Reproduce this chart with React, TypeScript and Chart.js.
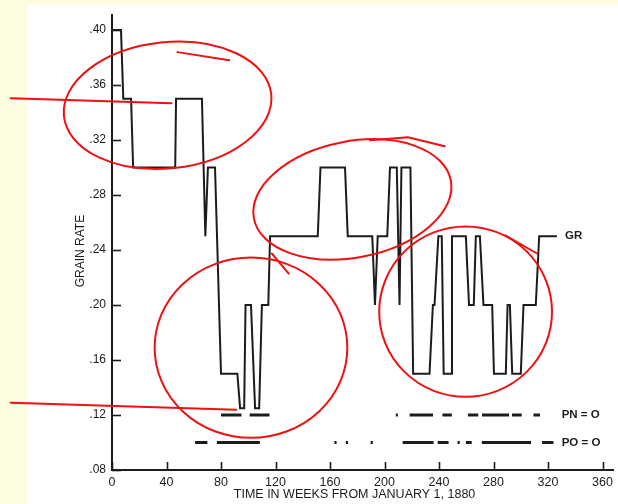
import React, { useEffect, useRef } from "react";
import { Chart, registerables } from "chart.js";

Chart.register(...registerables);

// ---- data ----
const grWeeks = [
  0, 6.6, 8.3, 14, 15.5, 46.4, 47, 66, 68.5, 70.4, 75.6, 80, 92, 94, 97, 98, 102, 105, 108, 110,
  114.7, 116, 151, 153, 171, 173, 191, 193, 195, 202, 204, 209, 211, 212.4, 219, 221, 233, 235.5,
  236.7, 239.5, 242, 243.4, 248.8, 249.5, 259.7, 262, 265.5, 267, 270, 272.6, 279, 280.3, 289,
  290.3, 292, 293.7, 300, 302, 311, 313.5, 326.5,
];
const grRate = [
  0.4, 0.4, 0.35, 0.35, 0.3, 0.3, 0.35, 0.35, 0.25, 0.3, 0.3, 0.15, 0.15, 0.125, 0.125, 0.2, 0.2,
  0.125, 0.125, 0.2, 0.2, 0.25, 0.25, 0.3, 0.3, 0.25, 0.25, 0.2, 0.25, 0.25, 0.3, 0.3, 0.2, 0.3,
  0.3, 0.15, 0.15, 0.2, 0.2, 0.25, 0.25, 0.15, 0.15, 0.25, 0.25, 0.2, 0.2, 0.25, 0.25, 0.2, 0.2,
  0.15, 0.15, 0.2, 0.2, 0.15, 0.15, 0.2, 0.2, 0.25, 0.25,
];

const pnLevel = 0.12;
const pnStart = [80, 101, 208.3, 218.4, 242.5, 261.2, 271.5, 293.5, 309.3];
const pnEnd = [95, 115.6, 209.8, 235.6, 249.4, 268.8, 291.4, 300.7, 314.1];

const poLevel = 0.1;
const poStart = [61, 77, 163.2, 171.6, 189.8, 213.3, 239, 253.6, 259.7, 271.4, 315.6];
const poEnd = [70, 108.5, 164.8, 173.2, 191.4, 236, 247, 255.2, 264, 307.5, 324];

const seriesLabels = ["GR", "PN = O", "PO = O"];
const seriesLabelWeek = [332.5, 330, 330];
const seriesLabelRate = [0.25, pnLevel, poLevel];

const xTickValues = [0, 40, 80, 120, 160, 200, 240, 280, 320, 360];
const yTickValues = [0.08, 0.12, 0.16, 0.2, 0.24, 0.28, 0.32, 0.36, 0.4];

const xTitle = "TIME IN WEEKS FROM JANUARY 1, 1880";
const yTitle = "GRAIN RATE";

// hand-drawn red markup (data units: week, rate, radius weeks, radius rate, tilt deg)
const markEllipses = [
  [40.8, 0.3453, 76.5, 0.0459, -6],
  [176.4, 0.2768, 73.6, 0.0423, -11],
  [102.0, 0.169, 70.7, 0.0656, 0],
  [259.5, 0.1952, 63.4, 0.062, 0],
];
const markStrokes = [
  [[-74.3, 0.3504], [43.7, 0.3468]],
  [[-74.3, 0.1289], [91.1, 0.1238]],
  [[48.1, 0.384], [86.0, 0.3781]],
  [[189.5, 0.3198], [217.2, 0.322], [244.2, 0.3155]],
  [[117.3, 0.2375], [129.7, 0.2229]],
  [[288.6, 0.2506], [311.9, 0.2375]],
];

const INK = "#1c1c1c";
const FONT = '"Liberation Sans", Arial, Helvetica, sans-serif';

function segmentData(starts: number[], ends: number[], level: number) {
  const out: { x: number; y: number | null }[] = [];
  starts.forEach((s, i) => {
    out.push({ x: s, y: level });
    out.push({ x: ends[i], y: level });
    out.push({ x: ends[i], y: null });
  });
  return out;
}

const decorPlugin = {
  id: "decor",
  beforeDraw(chart: any) {
    const { ctx, width, height } = chart;
    ctx.save();
    ctx.fillStyle = "#fefde2";
    ctx.fillRect(0, 0, width, height);
    ctx.fillStyle = "#ffffff";
    ctx.fillRect(28, 5, width - 28, height - 5);
    ctx.restore();
  },
  afterDraw(chart: any) {
    const { ctx, chartArea } = chart;
    const xs = chart.scales.x;
    const ys = chart.scales.y;
    ctx.save();
    // inward tick marks
    ctx.strokeStyle = INK;
    ctx.lineWidth = 1.6;
    yTickValues.forEach((v) => {
      const py = Math.round(ys.getPixelForValue(v)) + 0.5;
      ctx.beginPath();
      ctx.moveTo(chartArea.left, py);
      ctx.lineTo(chartArea.left + 9, py);
      ctx.stroke();
    });
    xTickValues.forEach((v) => {
      const px = Math.round(xs.getPixelForValue(v)) + 0.5;
      ctx.beginPath();
      ctx.moveTo(px, chartArea.bottom);
      ctx.lineTo(px, chartArea.bottom - 8);
      ctx.stroke();
    });
    // series labels
    ctx.fillStyle = INK;
    ctx.font = `bold 11.5px ${FONT}`;
    ctx.textAlign = "left";
    ctx.textBaseline = "middle";
    seriesLabels.forEach((t, i) => {
      ctx.fillText(t, xs.getPixelForValue(seriesLabelWeek[i]), ys.getPixelForValue(seriesLabelRate[i]));
    });
    // axis titles
    ctx.font = `12.5px ${FONT}`;
    ctx.textAlign = "center";
    ctx.textBaseline = "middle";
    ctx.fillText(xTitle, xs.getPixelForValue(178), chartArea.bottom + 25);
    ctx.save();
    ctx.translate(chartArea.left - 31, ys.getPixelForValue(0.2393));
    ctx.rotate(-Math.PI / 2);
    ctx.font = `12px ${FONT}`;
    ctx.fillText(yTitle, 0, 0);
    ctx.restore();
    // red markup
    ctx.strokeStyle = "#f01010";
    ctx.lineWidth = 2;
    ctx.lineCap = "round";
    markEllipses.forEach(([w, r, rw, rr, tilt]) => {
      const cx = xs.getPixelForValue(w);
      const cy = ys.getPixelForValue(r);
      const rx = xs.getPixelForValue(w + rw) - cx;
      const ry = cy - ys.getPixelForValue(r + rr);
      ctx.beginPath();
      ctx.ellipse(cx, cy, rx, ry, (tilt * Math.PI) / 180, 0, Math.PI * 2);
      ctx.stroke();
    });
    markStrokes.forEach((pts) => {
      ctx.beginPath();
      pts.forEach(([w, r], i) => {
        const px = xs.getPixelForValue(w);
        const py = ys.getPixelForValue(r);
        if (i === 0) ctx.moveTo(px, py);
        else ctx.lineTo(px, py);
      });
      ctx.stroke();
    });
    ctx.restore();
  },
};

export default function App() {
  const ref = useRef<HTMLCanvasElement | null>(null);
  useEffect(() => {
    if (!ref.current) return;
    const chart = new Chart(ref.current, {
      type: "line",
      data: {
        datasets: [
          {
            label: "GR",
            data: grWeeks.map((w, i) => ({ x: w, y: grRate[i] })),
            borderColor: INK,
            borderWidth: 2,
            pointRadius: 0,
            tension: 0,
            fill: false,
          },
          {
            label: "PN = O",
            data: segmentData(pnStart, pnEnd, pnLevel) as any,
            borderColor: INK,
            borderWidth: 3,
            borderCapStyle: "butt",
            pointRadius: 0,
            spanGaps: false,
          },
          {
            label: "PO = O",
            data: segmentData(poStart, poEnd, poLevel) as any,
            borderColor: INK,
            borderWidth: 3,
            borderCapStyle: "butt",
            pointRadius: 0,
            spanGaps: false,
          },
        ],
      },
      options: {
        animation: false,
        responsive: false,
        clip: false as any,
        layout: { padding: { top: 15, right: 1, bottom: 0, left: 0 } },
        plugins: { legend: { display: false }, tooltip: { enabled: false } },
        scales: {
          x: {
            type: "linear",
            min: 0,
            max: 368,
            afterBuildTicks: (s: any) => {
              s.ticks = xTickValues.map((v) => ({ value: v }));
            },
            afterFit: (s: any) => {
              s.height = 34;
            },
            grid: { display: false, drawTicks: false },
            border: { display: true, color: INK, width: 2 },
            ticks: {
              autoSkip: false,
              maxRotation: 0,
              padding: 5,
              color: INK,
              font: { family: FONT, size: 12.5 },
            },
          },
          y: {
            type: "linear",
            min: 0.08,
            max: 0.411,
            afterBuildTicks: (s: any) => {
              s.ticks = yTickValues.map((v) => ({ value: v }));
            },
            afterFit: (s: any) => {
              s.width = 112;
            },
            grid: { display: false, drawTicks: false },
            border: { display: true, color: INK, width: 2 },
            ticks: {
              autoSkip: false,
              padding: 6,
              color: INK,
              font: { family: FONT, size: 12 },
              callback: (v: any) => Number(v).toFixed(2).replace(/^0/, ""),
            },
          },
        },
      },
      plugins: [decorPlugin],
    });
    return () => chart.destroy();
  }, []);
  return (
    <div style={{ position: "absolute", left: 0, top: 0, width: 618, height: 504 }}>
      <canvas ref={ref} width={618} height={504} style={{ display: "block" }} />
    </div>
  );
}
